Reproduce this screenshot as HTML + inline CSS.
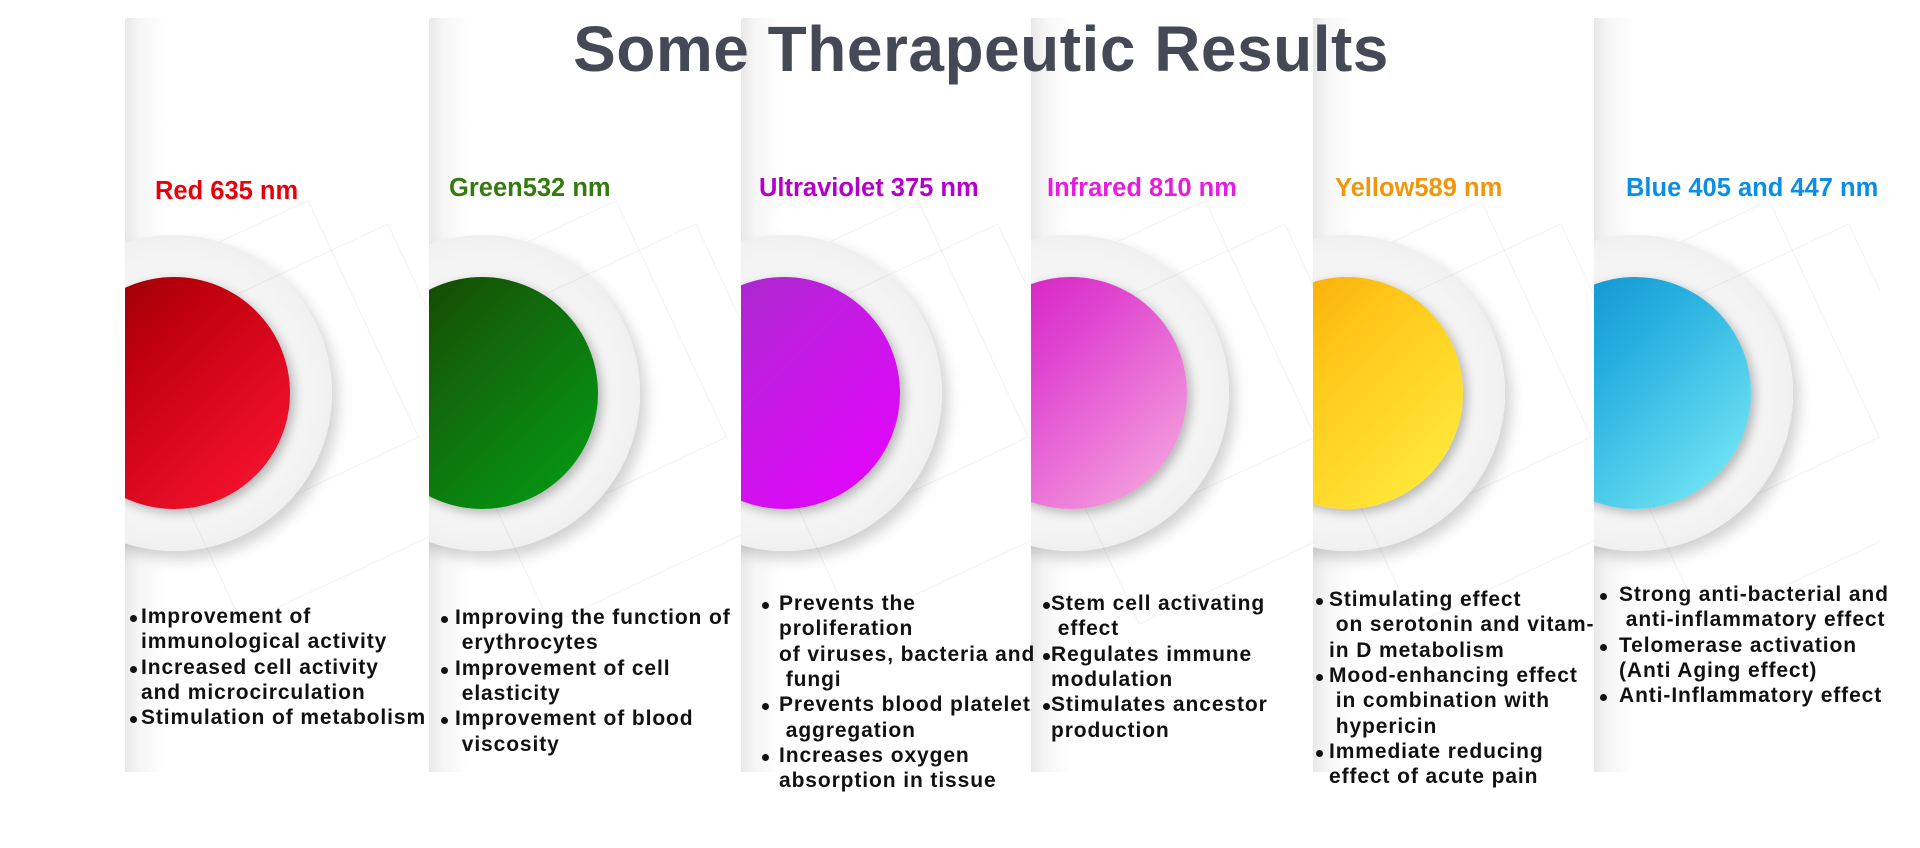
<!DOCTYPE html>
<html><head><meta charset="utf-8"><style>
body{margin:0;width:1920px;height:848px;background:#fff;position:relative;overflow:hidden;font-family:"Liberation Sans",sans-serif}
.title{position:absolute;left:0;width:1962px;top:12px;text-align:center;font-size:64px;font-weight:bold;color:#454955;letter-spacing:0.5px;z-index:5}
.strip{position:absolute;top:18px;height:754px;overflow:hidden;background:linear-gradient(to right,#e8e8e8 0px,#f6f6f6 14px,#fff 40px)}
.outer{position:absolute;width:316px;height:316px;border-radius:50%;background:radial-gradient(circle,#f4f4f4 60%,#e6e6e6 100%);box-shadow:6px 8px 14px rgba(0,0,0,.18)}
.inner{position:absolute;width:232px;height:232px;border-radius:50%;box-shadow:4px 4px 10px rgba(0,0,0,.25)}
.diag{position:absolute;border:1px solid rgba(0,0,0,.05);width:260px;height:260px;transform:rotate(-25deg)}
.head{position:absolute;font-size:25.5px;font-weight:bold;white-space:nowrap;z-index:4}
.bl{position:absolute;font-size:21px;font-weight:bold;color:#111;white-space:pre;line-height:25px;letter-spacing:0.9px;z-index:4}
.dot{position:absolute;width:7px;height:7px;border-radius:50%;background:#111;z-index:4}
</style></head><body>
<div class="title">Some Therapeutic Results</div>
<div id="root"></div>
<script>
const names=['red','green','ultraviolet','infrared','yellow','blue'];
const headings=['Red 635 nm','Green532 nm','Ultraviolet 375 nm','Infrared 810 nm','Yellow589 nm','Blue 405 and 447 nm'];
const headColors=['#e8000b','#347a0f','#b400c8','#e81ce0','#f0960a','#0a8ee8'];
const grads=['linear-gradient(135deg,#8a0000,#c0000e 35%,#ff1535)','linear-gradient(135deg,#173d00,#12660a 40%,#02a015)','linear-gradient(135deg,#9a30c0,#c01ee0 40%,#e800ff)','linear-gradient(135deg,#d010c0,#e048d0 40%,#f8b0e0)','linear-gradient(135deg,#f5a000,#ffc81a 40%,#fff040)','linear-gradient(135deg,#0888c8,#28b0e0 40%,#80f0f8)'];
const L=[125,429,741,1031,1313,1594];
const R=[429,741,1031,1313,1594,1880];
const cx=[174,482,784,1071,1347,1635];
const headX=[155,449,759,1047,1335,1626];
const headY=[177,174,174,174,174,174];
const dotX=[130,441,762,1043,1316,1600];
const textX=[141,455,779,1051,1329,1619];
const topY=[604,605,591,591,587,582];
const lines=[
[['Improvement of',1],['immunological activity',0],['Increased cell activity',1],['and microcirculation',0],['Stimulation of metabolism',1]],
[['Improving the function of',1],[' erythrocytes',0],['Improvement of cell',1],[' elasticity',0],['Improvement of blood',1],[' viscosity',0]],
[['Prevents the',1],['proliferation',0],['of viruses, bacteria and',0],[' fungi',0],['Prevents blood platelet',1],[' aggregation',0],['Increases oxygen',1],['absorption in tissue',0]],
[['Stem cell activating',1],[' effect',0],['Regulates immune',1],['modulation',0],['Stimulates ancestor',1],['production',0]],
[['Stimulating effect',1],[' on serotonin and vitam-',0],['in D metabolism',0],['Mood-enhancing effect',1],[' in combination with',0],[' hypericin',0],['Immediate reducing',1],['effect of acute pain',0]],
[['Strong anti-bacterial and',1],[' anti-inflammatory effect',0],['Telomerase activation',1],['(Anti Aging effect)',0],['Anti-Inflammatory effect',1]]
];
const root=document.getElementById('root');
const cy=393-18;
for(let i=0;i<6;i++){
 const s=document.createElement('div');s.className='strip';
 
 
 s.style.left=L[i]+'px';s.style.width=(R[i]-L[i])+'px';
 const c=cx[i]-L[i];
 const d1=document.createElement('div');d1.className='diag';d1.style.left=(c-60)+'px';d1.style.top=(cy-150)+'px';s.appendChild(d1);
 const o=document.createElement('div');o.className='outer';
 
 
 o.style.left=(c-158)+'px';o.style.top=(cy-158)+'px';s.appendChild(o);
 const d2=document.createElement('div');d2.className='diag';d2.style.left=(c-10)+'px';d2.style.top=(cy-120)+'px';d2.style.width='300px';d2.style.height='300px';s.appendChild(d2);
 const n=document.createElement('div');n.className='inner';
 
 
 n.style.left=(c-116)+'px';n.style.top=(cy-116)+'px';n.style.background=grads[i];s.appendChild(n);
 root.appendChild(s);
 const h=document.createElement('div');h.className='head';
 
 
 h.textContent=headings[i];h.style.left=headX[i]+'px';h.style.top=headY[i]+'px';h.style.color=headColors[i];
 root.appendChild(h);
 lines[i].forEach((ln,j)=>{
  const t=document.createElement('div');t.className='bl';
  
  
  t.textContent=ln[0];t.style.left=textX[i]+'px';t.style.top=(topY[i]+j*25.3)+'px';
  root.appendChild(t);
  if(ln[1]){const d=document.createElement('div');d.className='dot';
   
   
   d.style.left=dotX[i]+'px';d.style.top=(topY[i]+j*25.3+11)+'px';root.appendChild(d);}
 });
}
</script>
</body></html>
